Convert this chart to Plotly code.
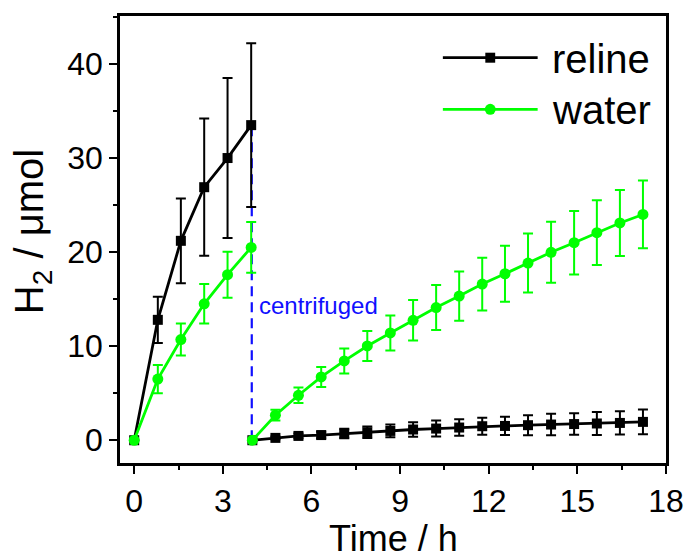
import plotly.graph_objects as go

# ---- data -------------------------------------------------------------
# first run (0-4 h), then the catalyst suspension was centrifuged and
# the supernatant was followed on its own
T_PHASE1 = [0, 0.80, 1.58, 2.37, 3.16, 3.96]
T_PHASE2 = [4.00, 4.78, 5.56, 6.33, 7.11, 7.89, 8.67, 9.44, 10.22, 11.00,
            11.78, 12.55, 13.33, 14.11, 14.89, 15.66, 16.44, 17.22]
CENTRIFUGE_T = 3.98

RELINE_1 = [0, 12.8, 21.2, 26.9, 30.0, 33.5]
RELINE_1_ERR = [0, 2.45, 4.5, 7.3, 8.5, 8.7]
RELINE_2 = [0, 0.25, 0.46, 0.55, 0.71, 0.85, 0.99, 1.14, 1.24, 1.35,
            1.49, 1.52, 1.60, 1.67, 1.72, 1.78, 1.84, 1.95]
RELINE_2_ERR = [0, 0.15, 0.25, 0.35, 0.5, 0.6, 0.67, 0.76, 0.85, 0.87,
                0.9, 0.97, 1.06, 1.15, 1.15, 1.22, 1.24, 1.31]

WATER_1 = [0, 6.5, 10.7, 14.5, 17.6, 20.5]
WATER_1_ERR = [0, 1.5, 1.7, 2.1, 2.45, 2.7]
WATER_2 = [0, 2.66, 4.78, 6.73, 8.43, 10.02, 11.41, 12.75, 14.1, 15.33,
           16.6, 17.7, 18.84, 19.98, 21.0, 22.07, 23.1, 24.0]
WATER_2_ERR = [0, 0.57, 0.83, 1.06, 1.33, 1.6, 1.86, 2.16, 2.39, 2.62,
               2.8, 2.98, 3.13, 3.24, 3.37, 3.45, 3.51, 3.6]

X_TICKS = [0, 3, 6, 9, 12, 15, 18]
Y_TICKS = [0, 10, 20, 30, 40]

# ---- styling ----------------------------------------------------------
FONT = "Liberation Sans, Arial, sans-serif"
BLACK = "#000000"
GREEN = "#00ff00"
BLUE = "#1010ff"

W, H = 696, 560
M_L, M_R, M_T, M_B = 120, 23, 16, 97
PW, PH = W - M_L - M_R, H - M_T - M_B


def px(x):
    return (x - M_L) / PW


def py(y):
    return (H - M_B - y) / PH


def joined(a, b):
    # one trace per series, the two runs separated by a gap
    return list(a) + [None] + list(b)


fig = go.Figure()

series = [
    ("reline", RELINE_1, RELINE_1_ERR, RELINE_2, RELINE_2_ERR, BLACK, "square", 10),
    ("water", WATER_1, WATER_1_ERR, WATER_2, WATER_2_ERR, GREEN, "circle", 11),
]
for name, v1, e1, v2, e2, color, symbol, size in series:
    fig.add_trace(go.Scatter(
        x=joined(T_PHASE1, T_PHASE2),
        y=joined(v1, v2),
        error_y=dict(type="data", array=joined(e1, e2), visible=True,
                     color=color, thickness=2, width=5),
        mode="lines+markers",
        name=name,
        connectgaps=False,
        line=dict(color=color, width=2.8),
        marker=dict(symbol=symbol, size=size, color=color),
        showlegend=False,
        cliponaxis=False,
    ))

# centrifugation marker
fig.add_shape(type="line", xref="x", yref="y",
              x0=CENTRIFUGE_T, x1=CENTRIFUGE_T, y0=0, y1=RELINE_1[-1],
              line=dict(color=BLUE, width=2.2, dash="10px,6px"), layer="below")
fig.add_annotation(x=CENTRIFUGE_T, xref="x", y=py(305), yref="paper",
                   text="centrifuged", showarrow=False, xanchor="left",
                   yanchor="middle", xshift=5,
                   font=dict(family=FONT, size=24, color=BLUE))

# legend drawn as shapes + text
legend_items = [("reline", BLACK, "rect", 57.7), ("water", GREEN, "circle", 109.3)]
for label, color, kind, yc in legend_items:
    fig.add_shape(type="line", xref="paper", yref="paper",
                  x0=px(447), x1=px(543), y0=py(yc), y1=py(yc),
                  line=dict(color=color, width=2.8))
    r = 5 if kind == "rect" else 5.5
    fig.add_shape(type=kind, xref="paper", yref="paper",
                  x0=px(495 - r), x1=px(495 + r), y0=py(yc - r), y1=py(yc + r),
                  line=dict(color=color, width=0), fillcolor=color)
    fig.add_annotation(x=px(556), y=py(yc + 1), xref="paper", yref="paper",
                       text=label, showarrow=False, xanchor="left",
                       yanchor="middle",
                       font=dict(family=FONT, size=40, color=BLACK))

# axis titles
fig.add_annotation(x=px(397), y=py(538), xref="paper", yref="paper",
                   text="Time / h", showarrow=False, xanchor="center",
                   yanchor="middle", font=dict(family=FONT, size=36, color=BLACK))
fig.add_annotation(x=px(31), y=py(232), xref="paper", yref="paper",
                   text="H<sub>2</sub> / μmol", showarrow=False, textangle=-90,
                   xanchor="center", yanchor="middle",
                   font=dict(family=FONT, size=40, color=BLACK))

axis_common = dict(
    showline=True, linecolor=BLACK, linewidth=2.5, mirror=True,
    ticks="outside", ticklen=8, tickwidth=2, tickcolor=BLACK,
    showgrid=False, zeroline=False,
    tickfont=dict(family=FONT, size=32, color=BLACK),
)

fig.update_layout(
    width=W, height=H,
    margin=dict(l=M_L, r=M_R, t=M_T, b=M_B),
    paper_bgcolor="white", plot_bgcolor="white",
    font=dict(family=FONT, color=BLACK),
    xaxis=dict(range=[-0.48, 18], tickvals=X_TICKS,
               minor=dict(dtick=1.5, tick0=0, ticks="outside", ticklen=4,
                          tickwidth=2, tickcolor=BLACK),
               **axis_common),
    yaxis=dict(range=[-2.42, 45.1], tickvals=Y_TICKS,
               minor=dict(dtick=5, tick0=0, ticks="outside", ticklen=4,
                          tickwidth=2, tickcolor=BLACK),
               **axis_common),
    showlegend=False,
)

fig.write_html("out.html")
